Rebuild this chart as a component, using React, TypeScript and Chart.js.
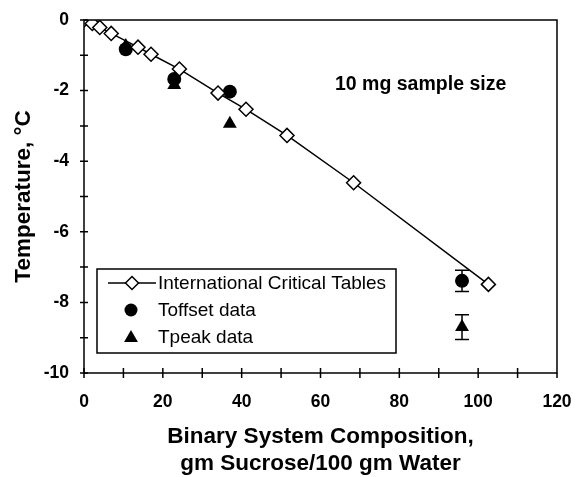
import React, { useEffect, useRef } from 'react';
import { Chart, registerables } from 'chart.js';

Chart.register(...registerables);

// International Critical Tables (freezing point of sucrose solutions)
const ictX = [0, 2.1, 4.0, 6.9, 13.7, 17.0, 24.2, 34.0, 41.1, 51.5, 68.4, 102.6];
const ictY = [0, -0.1, -0.21, -0.38, -0.77, -0.97, -1.39, -2.07, -2.53, -3.27, -4.61, -7.49];

// Measured data, 10 mg sample size
const toffX = [10.6, 22.9, 37.0, 95.9];
const toffY = [-0.83, -1.67, -2.03, -7.39];
const toffErr = [0, 0, 0, 0.3];

const tpeakX = [10.6, 22.9, 37.0, 95.9];
const tpeakY = [-0.74, -1.84, -2.94, -8.7];
const tpeakErr = [0, 0, 0, 0.35];

const xTickMarks = [0, 10, 20, 30, 40, 50, 60, 70, 80, 90, 100, 110, 120];
const yTickMarks = [-10, -9, -8, -7, -6, -5, -4, -3, -2, -1, 0];

const legendLabels = ['International Critical Tables', 'Toffset data', 'Tpeak data'];
const annotationText = '10 mg sample size';
const xTitle = ['Binary System Composition,', 'gm Sucrose/100 gm Water'];
const yTitle = 'Temperature, °C';

const FONT = '"Liberation Sans", Arial, Helvetica, sans-serif';

function diamond(ctx: CanvasRenderingContext2D, x: number, y: number, r: number) {
  ctx.beginPath();
  ctx.moveTo(x, y - r);
  ctx.lineTo(x + r, y);
  ctx.lineTo(x, y + r);
  ctx.lineTo(x - r, y);
  ctx.closePath();
  ctx.fillStyle = '#fff';
  ctx.fill();
  ctx.stroke();
}
function circle(ctx: CanvasRenderingContext2D, x: number, y: number, r: number) {
  ctx.beginPath();
  ctx.arc(x, y, r, 0, Math.PI * 2);
  ctx.fillStyle = '#000';
  ctx.fill();
}
function triangle(ctx: CanvasRenderingContext2D, x: number, y: number, r: number) {
  ctx.beginPath();
  ctx.moveTo(x, y - r);
  ctx.lineTo(x + r * 0.866, y + r * 0.5);
  ctx.lineTo(x - r * 0.866, y + r * 0.5);
  ctx.closePath();
  ctx.fillStyle = '#000';
  ctx.fill();
}

const framePlugin = {
  id: 'frame',
  beforeDatasetsDraw(chart: any) {
    const { ctx, scales } = chart;
    const x = scales.x;
    const y = scales.y;
    ctx.save();
    ctx.strokeStyle = '#000';
    ctx.lineWidth = 1.5;
    const drawErr = (xs: number[], ys: number[], es: number[]) => {
      xs.forEach((xv, i) => {
        const e = es[i];
        if (!e) return;
        const px = x.getPixelForValue(xv);
        const p1 = y.getPixelForValue(ys[i] + e);
        const p2 = y.getPixelForValue(ys[i] - e);
        ctx.beginPath();
        ctx.moveTo(px, p1);
        ctx.lineTo(px, p2);
        ctx.moveTo(px - 7, p1);
        ctx.lineTo(px + 7, p1);
        ctx.moveTo(px - 7, p2);
        ctx.lineTo(px + 7, p2);
        ctx.stroke();
      });
    };
    drawErr(toffX, toffY, toffErr);
    drawErr(tpeakX, tpeakY, tpeakErr);
    ctx.restore();
  },
  afterDraw(chart: any) {
    const { ctx, chartArea, scales } = chart;
    const { left, right, top, bottom } = chartArea;
    const x = scales.x;
    const y = scales.y;
    ctx.save();
    ctx.strokeStyle = '#000';
    ctx.lineWidth = 1.5;
    ctx.strokeRect(left, top, right - left, bottom - top);
    ctx.beginPath();
    const xmax = xTickMarks[xTickMarks.length - 1];
    xTickMarks.forEach((v) => {
      const px = x.getPixelForValue(v);
      ctx.moveTo(px, v === xmax ? bottom : bottom - 5);
      ctx.lineTo(px, bottom + 5);
    });
    yTickMarks.forEach((v) => {
      const py = y.getPixelForValue(v);
      ctx.moveTo(left - 4, py);
      ctx.lineTo(left + 4, py);
    });
    ctx.stroke();

    // annotation
    ctx.fillStyle = '#000';
    ctx.font = `bold 19.5px ${FONT}`;
    ctx.textAlign = 'left';
    ctx.textBaseline = 'alphabetic';
    ctx.fillText(annotationText, 335, 90);

    // legend
    const bx = 97, by = 269, bw = 299, bh = 84;
    ctx.fillStyle = '#fff';
    ctx.fillRect(bx, by, bw, bh);
    ctx.lineWidth = 1.5;
    ctx.strokeStyle = '#000';
    ctx.strokeRect(bx, by, bw, bh);
    const rows = [283, 310, 337];
    ctx.beginPath();
    ctx.moveTo(108, rows[0]);
    ctx.lineTo(156, rows[0]);
    ctx.stroke();
    diamond(ctx, 132, rows[0], 6.5);
    circle(ctx, 131, rows[1], 6.5);
    triangle(ctx, 131, rows[2] + 1, 8);
    ctx.fillStyle = '#000';
    ctx.font = `19px ${FONT}`;
    ctx.textBaseline = 'middle';
    legendLabels.forEach((t, i) => ctx.fillText(t, 158, rows[i] + 1));
    ctx.restore();
  },
};

export default function App() {
  const ref = useRef<HTMLCanvasElement | null>(null);
  useEffect(() => {
    if (!ref.current) return;
    const chart = new Chart(ref.current, {
      type: 'scatter',
      data: {
        datasets: [
          {
            label: legendLabels[0],
            data: ictX.map((v, i) => ({ x: v, y: ictY[i] })),
            showLine: true,
            borderColor: '#000',
            borderWidth: 1.5,
            pointStyle: 'rectRot',
            pointRadius: 7,
            pointBackgroundColor: '#fff',
            pointBorderColor: '#000',
            pointBorderWidth: 1.5,
          },
          {
            label: legendLabels[1],
            data: toffX.map((v, i) => ({ x: v, y: toffY[i] })),
            pointStyle: 'circle',
            pointRadius: 7,
            backgroundColor: '#000',
            borderColor: '#000',
            pointBorderWidth: 0,
          },
          {
            label: legendLabels[2],
            data: tpeakX.map((v, i) => ({ x: v, y: tpeakY[i] })),
            pointStyle: 'triangle',
            pointRadius: 8,
            backgroundColor: '#000',
            borderColor: '#000',
            pointBorderWidth: 0,
          },
        ],
      },
      options: {
        responsive: false,
        animation: false,
        devicePixelRatio: 1,
        layout: { padding: { left: 0, top: 20, right: 18, bottom: 0 } },
        plugins: { legend: { display: false }, tooltip: { enabled: false } },
        scales: {
          x: {
            type: 'linear',
            min: 0,
            max: 120,
            afterFit: (s: any) => {
              s.height = 104;
              s.paddingLeft = 0;
              s.paddingRight = 0;
            },
            grid: { display: false, drawTicks: false },
            border: { display: false },
            ticks: {
              stepSize: 20,
              padding: 19,
              color: '#000',
              maxRotation: 0,
              font: { family: FONT, size: 17.5, weight: 'bold' },
            },
            title: {
              display: true,
              text: xTitle,
              color: '#000',
              padding: { top: 0, bottom: 0 },
              font: { family: FONT, size: 22.5, weight: 'bold', lineHeight: 1.2 },
            },
          },
          y: {
            type: 'linear',
            min: -10,
            max: 0,
            afterFit: (s: any) => {
              s.width = 84;
              s.paddingTop = 0;
              s.paddingBottom = 0;
            },
            grid: { display: false, drawTicks: false },
            border: { display: false },
            ticks: {
              stepSize: 2,
              padding: 15,
              color: '#000',
              font: { family: FONT, size: 17.5, weight: 'bold' },
            },
            title: {
              display: true,
              text: yTitle,
              color: '#000',
              padding: { top: 10, bottom: 0 },
              font: { family: FONT, size: 22.5, weight: 'bold', lineHeight: 1.2 },
            },
          },
        },
      },
      plugins: [framePlugin],
    });
    return () => chart.destroy();
  }, []);
  return (
    <div style={{ position: 'absolute', left: 0, top: 0, width: 575, height: 477, background: '#fff' }}>
      <canvas ref={ref} width={575} height={477} />
    </div>
  );
}
